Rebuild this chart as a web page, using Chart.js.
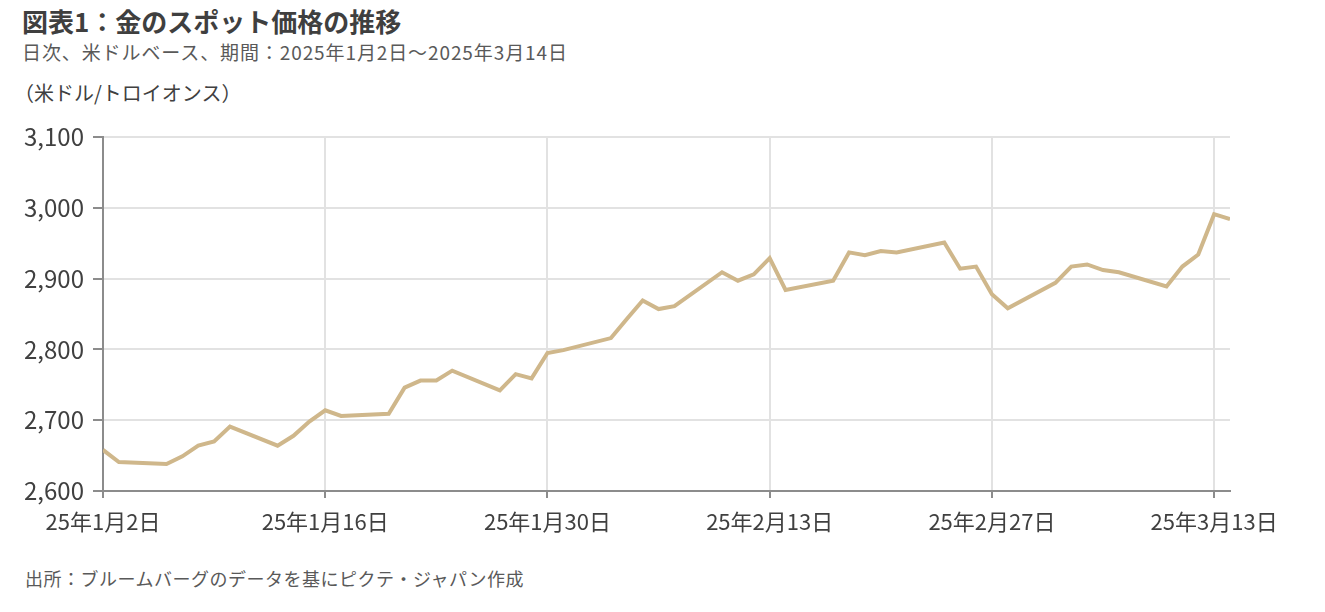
<!DOCTYPE html>
<html lang="ja">
<head>
<meta charset="utf-8">
<script src="https://cdn.jsdelivr.net/npm/chart.js@4.4.1/dist/chart.umd.min.js"></script>
<style>
    body { margin: 0; background: #fff; font-family: "Noto Sans CJK JP", sans-serif; }
    #wrap { position: relative; width: 1325px; height: 612px; overflow: hidden; }
    #wrap div { position: absolute; white-space: nowrap; }
    .title { left: 22px; top: 7px; font-size: 26px; line-height: 28px; font-weight: bold; color: #3f3f3f; }
    .sub { left: 22px; top: 41px; font-size: 19px; line-height: 22px; color: #595959; letter-spacing: 0.9px; }
    .unit { left: 14px; top: 81px; font-size: 20px; line-height: 24px; color: #404040; }
    .source { left: 25px; top: 567px; font-size: 18px; line-height: 22px; color: #595959; letter-spacing: 0.5px; }
    canvas { position: absolute; left: 0; top: 0; }
</style>
</head>
<body>
<div id="wrap">
    <div class="title">図表1：金のスポット価格の推移</div>
    <div class="sub">日次、米ドルベース、期間：2025年1月2日～2025年3月14日</div>
    <div class="unit">（米ドル/トロイオンス）</div>
    <div class="source">出所：ブルームバーグのデータを基にピクテ・ジャパン作成</div>
    <canvas id="goldChart" width="1325" height="612"></canvas>
</div>
<script>
// trading days and gold spot price (USD/oz)
const dates = [
    '2025-01-02', '2025-01-03', '2025-01-06', '2025-01-07', '2025-01-08', '2025-01-09', '2025-01-10',
    '2025-01-13', '2025-01-14', '2025-01-15', '2025-01-16', '2025-01-17',
    '2025-01-20', '2025-01-21', '2025-01-22', '2025-01-23', '2025-01-24',
    '2025-01-27', '2025-01-28', '2025-01-29', '2025-01-30', '2025-01-31',
    '2025-02-03', '2025-02-04', '2025-02-05', '2025-02-06', '2025-02-07',
    '2025-02-10', '2025-02-11', '2025-02-12', '2025-02-13', '2025-02-14',
    '2025-02-17', '2025-02-18', '2025-02-19', '2025-02-20', '2025-02-21',
    '2025-02-24', '2025-02-25', '2025-02-26', '2025-02-27', '2025-02-28',
    '2025-03-03', '2025-03-04', '2025-03-05', '2025-03-06', '2025-03-07',
    '2025-03-10', '2025-03-11', '2025-03-12', '2025-03-13', '2025-03-14'
];
const prices = [
    2658, 2641, 2638, 2649, 2664, 2670, 2691,
    2664, 2678, 2698, 2714, 2706,
    2709, 2746, 2756, 2756, 2770,
    2742, 2765, 2759, 2795, 2799,
    2816, 2843, 2869, 2857, 2861,
    2909, 2897, 2906, 2929, 2884,
    2897, 2937, 2933, 2939, 2937,
    2951, 2914, 2917, 2878, 2858,
    2894, 2917, 2920, 2912, 2909,
    2889, 2917, 2934, 2991, 2984
];
const tickDates = ['2025-01-02', '2025-01-16', '2025-01-30', '2025-02-13', '2025-02-27', '2025-03-13'];
const tickLabels = ['25年1月2日', '25年1月16日', '25年1月30日', '25年2月13日', '25年2月27日', '25年3月13日'];
const yTicks = [2600, 2700, 2800, 2900, 3000, 3100];

const startDate = dates[0];
const dayIndex = d => (Date.parse(d) - Date.parse(startDate)) / 86400000;

const points = dates.map((d, i) => ({ x: dayIndex(d), y: prices[i] }));
const tickDays = tickDates.map(dayIndex);

const axisColor = '#8c8c8c';
const gridColor = '#e2e2e2';

new Chart(document.getElementById('goldChart'), {
    type: 'line',
    data: {
        datasets: [{
            data: points,
            borderColor: '#cfb78b',
            borderWidth: 4,
            pointRadius: 0,
            tension: 0,
            fill: false
        }]
    },
    options: {
        responsive: false,
        animation: false,
        layout: { padding: { top: 137, right: 95, left: 0, bottom: 0 } },
        plugins: { legend: { display: false }, tooltip: { enabled: false } },
        scales: {
            x: {
                type: 'linear',
                min: 0,
                max: dayIndex(dates[dates.length - 1]),
                afterBuildTicks: s => { s.ticks = tickDays.map(v => ({ value: v })); },
                afterFit: s => { s.height = 121; },
                border: { color: axisColor, width: 2 },
                grid: {
                    color: c => c.tick && c.tick.value === 0 ? 'rgba(0,0,0,0)' : gridColor,
                    lineWidth: 2,
                    tickColor: axisColor,
                    tickLength: 7
                },
                ticks: {
                    autoSkip: false,
                    maxRotation: 0,
                    padding: 10,
                    color: '#404040',
                    font: { family: '"Noto Sans CJK JP"', size: 22 },
                    callback: (v, i) => tickLabels[i]
                }
            },
            y: {
                min: 2600,
                max: 3100,
                afterBuildTicks: s => { s.ticks = yTicks.map(v => ({ value: v })); },
                afterFit: s => { s.width = 103; },
                border: { color: axisColor, width: 2 },
                grid: {
                    color: c => c.tick && c.tick.value === 2600 ? 'rgba(0,0,0,0)' : gridColor,
                    lineWidth: 2,
                    tickColor: axisColor,
                    tickLength: 10
                },
                ticks: {
                    padding: 9,
                    color: '#404040',
                    font: { family: '"Noto Sans CJK JP"', size: 24 },
                    callback: v => v.toLocaleString('en-US')
                }
            }
        }
    }
});
</script>
</body>
</html>
